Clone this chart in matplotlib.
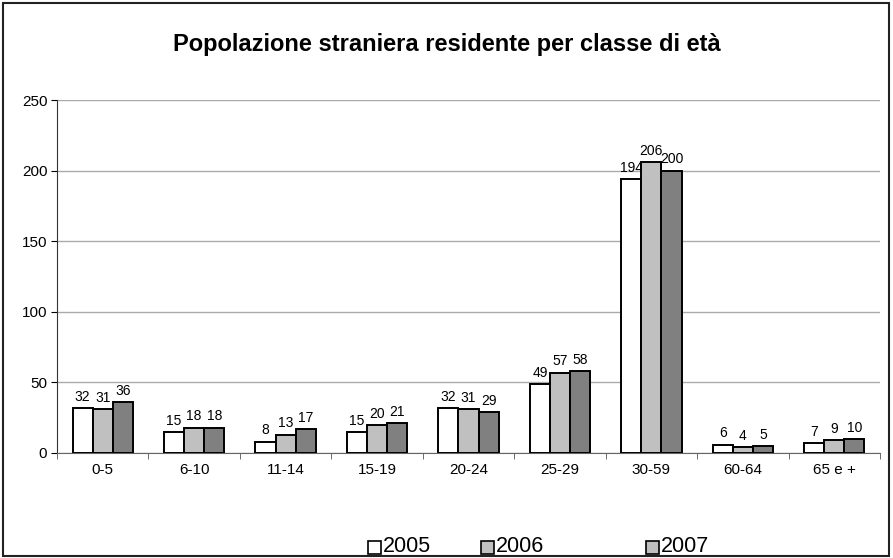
import matplotlib
matplotlib.use("Agg")
import matplotlib.pyplot as plt
import matplotlib.patches as mpatches
import numpy as np

plt.rcParams['font.family'] = ['Liberation Sans', 'DejaVu Sans']

classi = ['0-5', '6-10', '11-14', '15-19', '20-24', '25-29', '30-59', '60-64', '65 e +']
v2005 = [32, 15, 8, 15, 32, 49, 194, 6, 7]
v2006 = [31, 18, 13, 20, 31, 57, 206, 4, 9]
v2007 = [36, 18, 17, 21, 29, 58, 200, 5, 10]
anni = ['2005', '2006', '2007']
colori = ['#FFFFFF', '#C0C0C0', '#808080']
# nella legenda originale anche il 2007 appare grigio chiaro
colori_legenda = ['#FFFFFF', '#C0C0C0', '#C0C0C0']

W, H = 893, 558
fig = plt.figure(figsize=(W / 100, H / 100), dpi=100)
fig.patches.append(mpatches.Rectangle((3 / W, 2 / H), 886 / W, 553 / H, transform=fig.transFigure,
                                      fill=False, edgecolor='#222222', linewidth=1.5))
ax = fig.add_axes([57 / W, 1 - 453 / H, 823 / W, 353 / H])

x = np.arange(len(classi))
w = 0.22
for i, serie in enumerate([v2005, v2006, v2007]):
    bars = ax.bar(x + (i - 1) * w, serie, w, color=colori[i], edgecolor='black', linewidth=1.4, zorder=3)
    for b, v in zip(bars, serie):
        ax.text(b.get_x() + b.get_width() / 2, v + 3, str(v), ha='center', va='bottom', fontsize=10)

ax.set_xlim(-0.5, len(classi) - 0.5)
ax.set_ylim(0, 250)
ax.set_yticks(range(0, 251, 50))
ax.yaxis.grid(True, color='#AAAAAA', linewidth=1, zorder=0)
ax.set_xticks(x)
ax.set_xticklabels(classi, fontsize=11)
ax.set_xticks(np.arange(-0.5, len(classi)), minor=True)
ax.tick_params(axis='x', which='major', length=0, pad=7)
ax.tick_params(axis='x', which='minor', length=4, color='#555555')
ax.tick_params(axis='y', labelsize=11, length=4, pad=3)
for s in ['top', 'right']:
    ax.spines[s].set_visible(False)
ax.spines['left'].set_color('#333333')
ax.spines['bottom'].set_color('#666666')

fig.text(0.5, 1 - 45 / H, 'Popolazione straniera residente per classe di età', ha='center', va='center',
         fontsize=17, fontweight='bold')

# legenda disegnata a mano per riprodurre la spaziatura dell'originale
leg_x = [368, 481, 646]
leg_y = 547
box = 13
for xx, nome, c in zip(leg_x, anni, colori_legenda):
    fig.patches.append(mpatches.Rectangle((xx / W, (H - leg_y - box / 2) / H), box / W, box / H,
                                          transform=fig.transFigure, facecolor=c,
                                          edgecolor='black', linewidth=1.2))
    fig.text((xx + box + 2) / W, (H - leg_y) / H, nome, ha='left', va='center', fontsize=15.5)

fig.savefig('out.png', dpi=100)
